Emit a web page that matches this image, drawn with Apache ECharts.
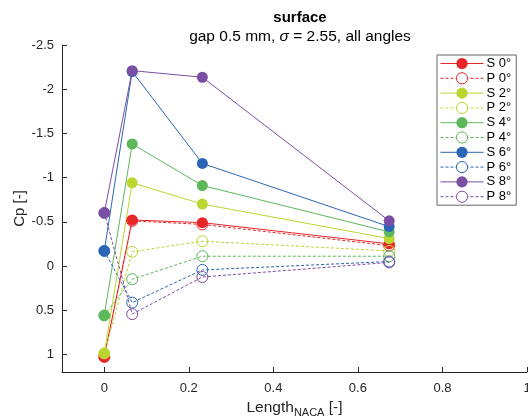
<!DOCTYPE html>
<html lang="en">
<head>
    <meta charset="UTF-8">
    <title>surface Cp</title>
    <script type="text/javascript" src="https://cdn.jsdelivr.net/npm/echarts@6.0.0/dist/echarts.min.js"></script>
</head>
<body style="margin:0">
<div id="main" style="width:528px;height:418px;"></div>
<script type="text/javascript">
    // positions along the chord
    const xPos = [0, 0.066, 0.232, 0.674];
    const names = ['S 0°', 'P 0°', 'S 2°', 'P 2°', 'S 4°', 'P 4°', 'S 6°', 'P 6°', 'S 8°', 'P 8°'];
    const S0 = [1.03, -0.52, -0.49, -0.25];
    const P0 = [1.03, -0.51, -0.47, -0.23];
    const S2 = [0.99, -0.94, -0.70, -0.31];
    const P2 = [0.99, -0.16, -0.28, -0.17];
    const S4 = [0.56, -1.38, -0.91, -0.385];
    const P4 = [0.56, 0.15, -0.11, -0.11];
    const S6 = [-0.17, -2.2, -1.16, -0.445];
    const P6 = [-0.17, 0.415, 0.045, -0.05];
    const S8 = [-0.6, -2.21, -2.135, -0.51];
    const P8 = [-0.6, 0.545, 0.125, -0.04];
    const xTicks = [0, 0.2, 0.4, 0.6, 0.8, 1];
    const yTicks = [-2.5, -2, -1.5, -1, -0.5, 0, 0.5, 1];

    const colors = ['#e8262a', '#bcd631', '#5cb85a', '#2a66b5', '#7a4ea3'];
    const values = [S0, P0, S2, P2, S4, P4, S6, P6, S8, P8];
    const font = 'Liberation Sans';
    const axisColor = '#262626';

    const myChart = echarts.init(document.getElementById('main'));

    const series = values.map((v, i) => {
        const c = colors[Math.floor(i / 2)];
        const suction = i % 2 === 0;
        return {
            name: names[i],
            type: 'line',
            data: v.map((y, k) => [xPos[k], y]),
            symbol: 'circle',
            symbolSize: 11,
            lineStyle: {color: c, width: 1, type: suction ? 'solid' : [3, 2]},
            itemStyle: suction ? {color: c, borderWidth: 0} : {color: 'none', borderColor: c, borderWidth: 1},
            emphasis: {disabled: true},
            animation: false
        };
    });

    // legend entries styled like the lines
    const legendData = names.map((n, i) => {
        const c = colors[Math.floor(i / 2)];
        const suction = i % 2 === 0;
        return {
            name: n,
            lineStyle: {color: c, width: 1, type: suction ? 'solid' : [3, 2]},
            itemStyle: {color: suction ? c : '#fff', borderColor: c, borderWidth: suction ? 0 : 1}
        };
    });

    const option = {
        backgroundColor: '#fff',
        textStyle: {fontFamily: font},
        title: {
            left: 295,
            top: 5,
            textAlign: 'center',
            text: 'surface',
            textStyle: {fontFamily: font, fontSize: 15, fontWeight: 'bold', color: '#000'},
            subtext: '{n|gap 0.5 mm, }{i|σ}{n| = 2.55, all angles}',
            itemGap: 4,
            subtextStyle: {
                rich: {
                    n: {fontFamily: font, fontSize: 15.5, color: '#000'},
                    i: {fontFamily: font, fontSize: 15.5, color: '#000', fontStyle: 'italic'}
                }
            }
        },
        legend: {
            orient: 'vertical',
            left: 437,
            top: 55,
            padding: [2, 5, 2, 3],
            itemWidth: 43,
            itemHeight: 14,
            itemGap: 1.8,
            backgroundColor: '#fff',
            borderColor: '#666',
            borderWidth: 1,
            borderRadius: 0,
            textStyle: {fontFamily: font, fontSize: 13, color: '#000', padding: [0, 0, 0, -2]},
            data: legendData
        },
        grid: {left: 62, right: 1, top: 45, bottom: 46, outerBoundsMode: 'none'},
        xAxis: {
            type: 'value',
            min: -0.1,
            max: 1,
            name: '{a|Length}{b|NACA}{a| [-]}',
            nameLocation: 'middle',
            nameMoveOverlap: false,
            nameGap: 26,
            nameTextStyle: {
                rich: {
                    a: {fontFamily: font, fontSize: 15.5, color: axisColor},
                    b: {fontFamily: font, fontSize: 11, color: axisColor, padding: [9, 0, 0, 0]}
                }
            },
            axisLine: {onZero: false, lineStyle: {color: axisColor}},
            axisTick: {inside: true, length: 5, customValues: xTicks, lineStyle: {color: axisColor}},
            axisLabel: {customValues: xTicks, fontSize: 13, color: axisColor, margin: 10},
            splitLine: {show: false}
        },
        yAxis: {
            type: 'value',
            inverse: true,
            min: -2.5,
            max: 1.2,
            name: 'Cp [-]',
            nameLocation: 'middle',
            nameMoveOverlap: false,
            nameGap: 35,
            nameTextStyle: {fontFamily: font, fontSize: 15, color: axisColor},
            axisLine: {show: true, onZero: false, lineStyle: {color: axisColor}},
            axisTick: {show: true, inside: true, length: 5, customValues: yTicks, lineStyle: {color: axisColor}},
            axisLabel: {customValues: yTicks, fontSize: 13, color: axisColor, margin: 8},
            splitLine: {show: false}
        },
        series: series
    };

    myChart.setOption(option);
</script>
</body>
</html>
